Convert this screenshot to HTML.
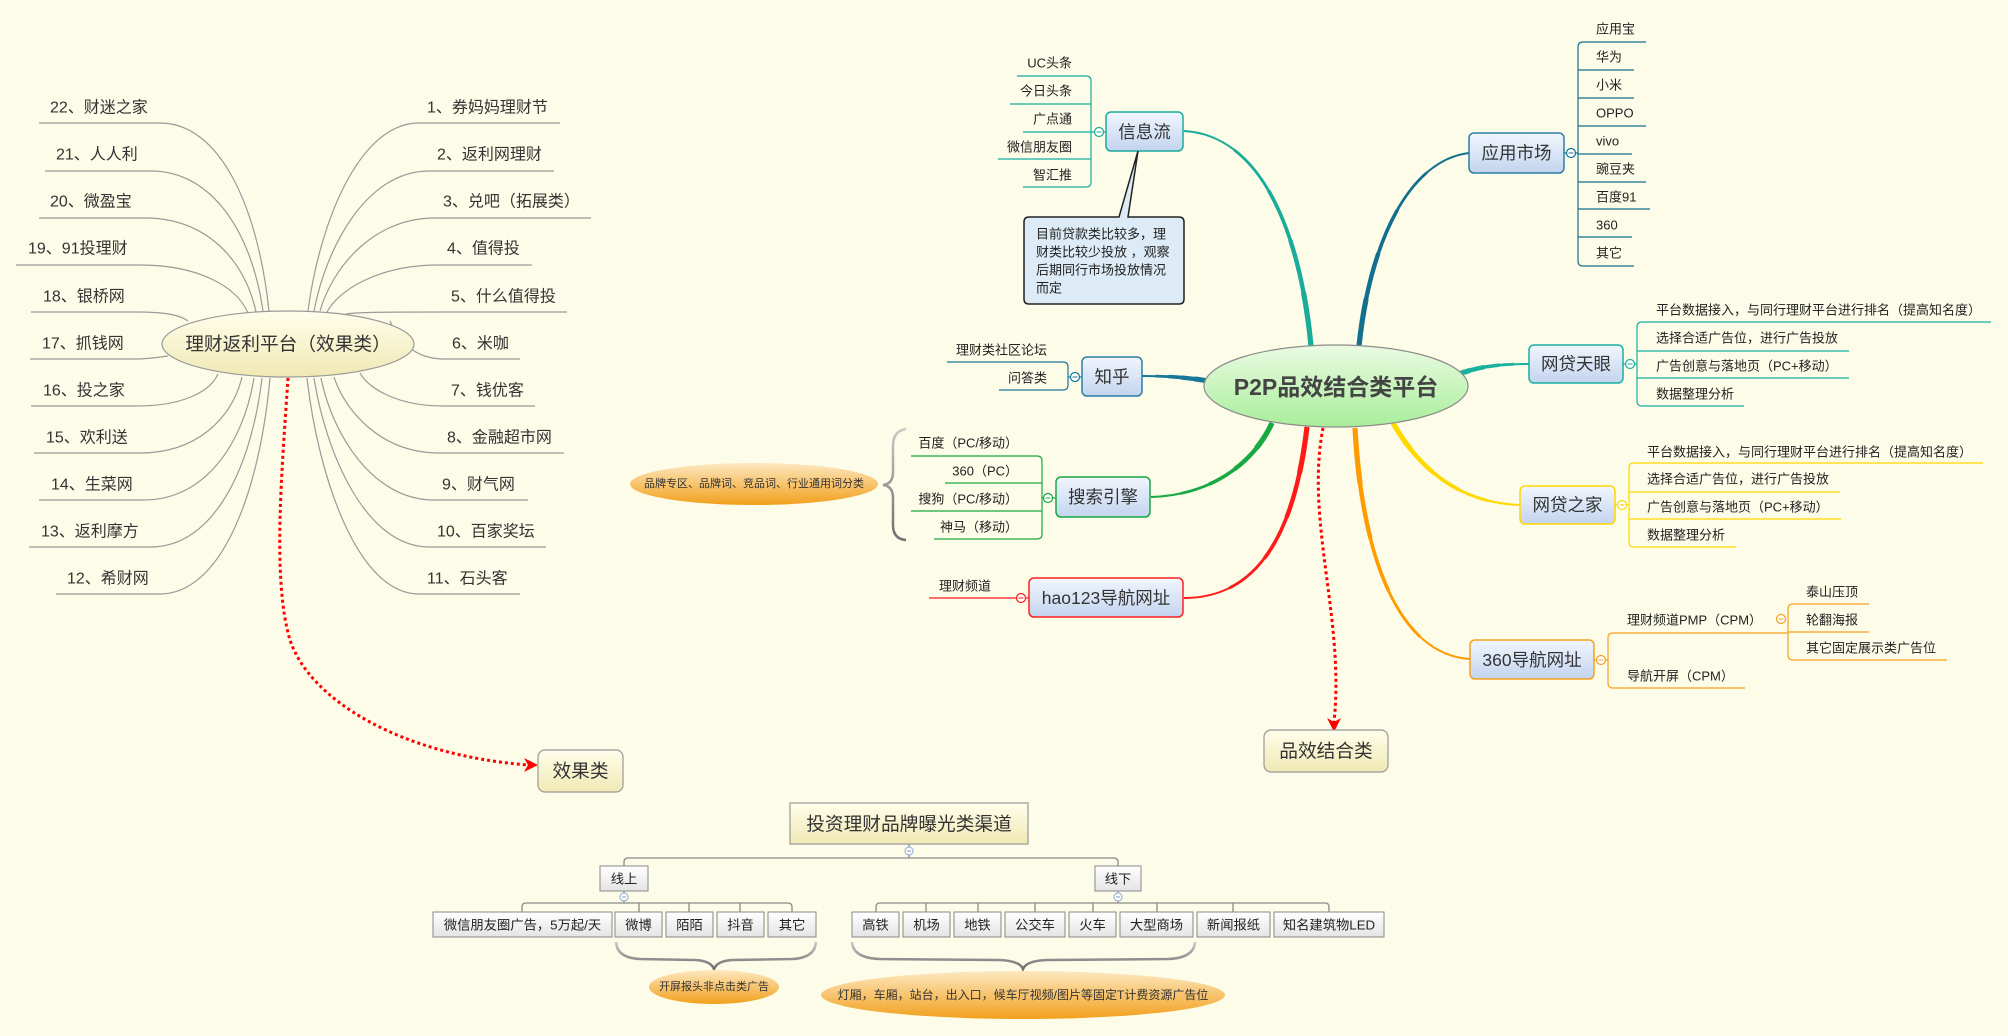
<!DOCTYPE html>
<html><head><meta charset="utf-8"><style>
html,body{margin:0;padding:0;background:#fdfce8;}
svg{display:block;font-family:"Liberation Sans","Noto Sans CJK SC",sans-serif;}
text{fill:#222;dominant-baseline:central;}
.t16{font-size:16px;fill:#333;}
.t13{font-size:13px;}
.tm{font-size:17.5px;fill:#333;text-anchor:middle;}
.tb{font-size:13.3px;text-anchor:middle;}
</style></head><body>
<svg width="2008" height="1036" viewBox="0 0 2008 1036" xmlns="http://www.w3.org/2000/svg" xmlns:xlink="http://www.w3.org/1999/xlink">
<defs>
<linearGradient id="gBlue" x1="0" y1="0" x2="0" y2="1"><stop offset="0" stop-color="#f1f6fd"/><stop offset="1" stop-color="#c3d4ef"/></linearGradient>
<linearGradient id="gYel" x1="0" y1="0" x2="0" y2="1"><stop offset="0" stop-color="#fffeec"/><stop offset="1" stop-color="#f0e9b4"/></linearGradient>
<linearGradient id="gGreen" x1="0" y1="0" x2="0" y2="1"><stop offset="0" stop-color="#ebfbe3"/><stop offset="1" stop-color="#a8ee9a"/></linearGradient>
<linearGradient id="gOr" x1="0" y1="0" x2="0" y2="1"><stop offset="0" stop-color="#fde8c0"/><stop offset="1" stop-color="#f2a01c"/></linearGradient>
<linearGradient id="gGray" x1="0" y1="0" x2="0" y2="1"><stop offset="0" stop-color="#ffffff"/><stop offset="1" stop-color="#e4e4e4"/></linearGradient>
<linearGradient id="gBrace" x1="0" y1="0" x2="0" y2="1"><stop offset="0" stop-color="#c8c8c8"/><stop offset="1" stop-color="#6e6e6e"/></linearGradient>
<path id="c1" pathLength="100" d="M1311,346 C1300,230 1260,135 1184,131"/>
<path id="c2" pathLength="100" d="M1359,346 C1370,240 1410,160 1469,153"/>
<path id="c3" pathLength="100" d="M1208,381 C1185,377 1165,376 1142,376"/>
<path id="c4" pathLength="100" d="M1456,375 C1480,366 1500,364 1529,364"/>
<path id="c5" pathLength="100" d="M1393,423 C1420,470 1460,503 1520,505"/>
<path id="c6" pathLength="100" d="M1355,428 C1362,560 1400,655 1470,659"/>
<path id="c7" pathLength="100" d="M1272,423 C1255,460 1215,495 1151,497"/>
<path id="c8" pathLength="100" d="M1307,427 C1295,530 1260,598 1184,598"/>
</defs>
<rect width="2008" height="1036" fill="#fdfce8"/>

<!-- ===== Left cluster lines ===== -->
<g fill="none" stroke="#9a9a9a" stroke-width="1.2">
<path d="M39,123 H160 C220,123 258,207 269,311"/>
<path d="M45,171 H151 C213,171 252,234 263,311"/>
<path d="M39,218 H145 C206,218 245,260 256,312"/>
<path d="M16,265 H140 C199,265 237,287 248,313"/>
<path d="M31,312 H137 C165,312 180,315 188,321"/>
<path d="M30,359 H136 C150,359 160,357 168,356"/>
<path d="M31,406 H137 C182,406 210,392 218,374"/>
<path d="M34,453 H140 C196,453 232,419 242,377"/>
<path d="M39,500 H144 C204,500 243,445 254,378"/>
<path d="M29,547 H151 C212,547 251,471 262,378"/>
<path d="M56,594 H160 C220,594 259,497 270,378"/>
<path d="M308,311 C319,226 358,123 419,123 H560"/>
<path d="M314,311 C326,248 366,171 429,171 H554"/>
<path d="M320,311 C332,269 372,218 435,218 H591"/>
<path d="M327,312 C338,291 377,265 439,265 H532"/>
<path d="M346,314 C360,312 390,312 443,312 H567"/>
<path d="M390,321 C398,340 414,359 444,359 H520"/>
<path d="M360,373 C368,388 397,406 443,406 H535"/>
<path d="M334,377 C345,411 381,453 439,453 H564"/>
<path d="M321,378 C332,433 372,500 434,500 H528"/>
<path d="M314,378 C326,454 366,547 429,547 H546"/>
<path d="M307,378 C318,475 357,594 419,594 H520"/>
</g>

<!-- red dotted to 效果类 -->
<path d="M288,378 C282,470 272,580 290,640 C310,700 400,755 528,765" fill="none" stroke="#ff0000" stroke-width="3" stroke-dasharray="3,3"/>
<polygon points="538,765 524,758 528,765 524,772" fill="#ff0000"/>

<ellipse cx="288" cy="344" rx="126" ry="33" fill="url(#gYel)" stroke="#9a9a9a" stroke-width="1.2"/>
<text x="288" y="344" style="font-size:18.7px;fill:#333;text-anchor:middle">理财返利平台（效果类）</text>

<g>
<text x="50" y="108" class="t16">22、财迷之家</text>
<text x="56" y="155" class="t16">21、人人利</text>
<text x="50" y="202" class="t16">20、微盈宝</text>
<text x="28" y="249" class="t16">19、91投理财</text>
<text x="43" y="297" class="t16">18、银桥网</text>
<text x="42" y="344" class="t16">17、抓钱网</text>
<text x="43" y="391" class="t16">16、投之家</text>
<text x="46" y="438" class="t16">15、欢利送</text>
<text x="51" y="485" class="t16">14、生菜网</text>
<text x="41" y="532" class="t16">13、返利摩方</text>
<text x="67" y="579" class="t16">12、希财网</text>
<text x="427" y="108" class="t16">1、券妈妈理财节</text>
<text x="437" y="155" class="t16">2、返利网理财</text>
<text x="443" y="202" class="t16">3、兑吧（拓展类）</text>
<text x="447" y="249" class="t16">4、值得投</text>
<text x="451" y="297" class="t16">5、什么值得投</text>
<text x="452" y="344" class="t16">6、米咖</text>
<text x="451" y="391" class="t16">7、钱优客</text>
<text x="447" y="438" class="t16">8、金融超市网</text>
<text x="442" y="485" class="t16">9、财气网</text>
<text x="437" y="532" class="t16">10、百家奖坛</text>
<text x="427" y="579" class="t16">11、石头客</text>
</g>

<!-- 效果类 box -->
<rect x="538" y="750" width="85" height="42" rx="7" fill="url(#gYel)" stroke="#999" stroke-width="1.2"/>
<text x="580.5" y="771" style="font-size:18.7px;fill:#333;text-anchor:middle">效果类</text>

<!-- ===== Main connectors (tapered) ===== -->
<g fill="none" stroke-linecap="butt">
<g stroke="#1aab9b"><use xlink:href="#c1" href="#c1" stroke-width="2"/><use xlink:href="#c1" href="#c1" stroke-width="2.8" stroke-dasharray="80 200"/><use xlink:href="#c1" href="#c1" stroke-width="3.6" stroke-dasharray="60 200"/><use xlink:href="#c1" href="#c1" stroke-width="4.4" stroke-dasharray="40 200"/><use xlink:href="#c1" href="#c1" stroke-width="5.2" stroke-dasharray="20 200"/></g>
<g stroke="#12708e"><use xlink:href="#c2" href="#c2" stroke-width="2"/><use xlink:href="#c2" href="#c2" stroke-width="2.8" stroke-dasharray="80 200"/><use xlink:href="#c2" href="#c2" stroke-width="3.6" stroke-dasharray="60 200"/><use xlink:href="#c2" href="#c2" stroke-width="4.4" stroke-dasharray="40 200"/><use xlink:href="#c2" href="#c2" stroke-width="5.2" stroke-dasharray="20 200"/></g>
<g stroke="#17789a"><use xlink:href="#c3" href="#c3" stroke-width="2"/><use xlink:href="#c3" href="#c3" stroke-width="2.8" stroke-dasharray="80 200"/><use xlink:href="#c3" href="#c3" stroke-width="3.6" stroke-dasharray="60 200"/><use xlink:href="#c3" href="#c3" stroke-width="4.4" stroke-dasharray="40 200"/><use xlink:href="#c3" href="#c3" stroke-width="5.2" stroke-dasharray="20 200"/></g>
<g stroke="#19b0a0"><use xlink:href="#c4" href="#c4" stroke-width="2"/><use xlink:href="#c4" href="#c4" stroke-width="2.8" stroke-dasharray="80 200"/><use xlink:href="#c4" href="#c4" stroke-width="3.6" stroke-dasharray="60 200"/><use xlink:href="#c4" href="#c4" stroke-width="4.4" stroke-dasharray="40 200"/><use xlink:href="#c4" href="#c4" stroke-width="5.2" stroke-dasharray="20 200"/></g>
<g stroke="#ffd800"><use xlink:href="#c5" href="#c5" stroke-width="2"/><use xlink:href="#c5" href="#c5" stroke-width="2.8" stroke-dasharray="80 200"/><use xlink:href="#c5" href="#c5" stroke-width="3.6" stroke-dasharray="60 200"/><use xlink:href="#c5" href="#c5" stroke-width="4.4" stroke-dasharray="40 200"/><use xlink:href="#c5" href="#c5" stroke-width="5.2" stroke-dasharray="20 200"/></g>
<g stroke="#ff9a00"><use xlink:href="#c6" href="#c6" stroke-width="2"/><use xlink:href="#c6" href="#c6" stroke-width="2.8" stroke-dasharray="80 200"/><use xlink:href="#c6" href="#c6" stroke-width="3.6" stroke-dasharray="60 200"/><use xlink:href="#c6" href="#c6" stroke-width="4.4" stroke-dasharray="40 200"/><use xlink:href="#c6" href="#c6" stroke-width="5.2" stroke-dasharray="20 200"/></g>
<g stroke="#18a844"><use xlink:href="#c7" href="#c7" stroke-width="2"/><use xlink:href="#c7" href="#c7" stroke-width="2.8" stroke-dasharray="80 200"/><use xlink:href="#c7" href="#c7" stroke-width="3.6" stroke-dasharray="60 200"/><use xlink:href="#c7" href="#c7" stroke-width="4.4" stroke-dasharray="40 200"/><use xlink:href="#c7" href="#c7" stroke-width="5.2" stroke-dasharray="20 200"/></g>
<g stroke="#ff1a1a"><use xlink:href="#c8" href="#c8" stroke-width="2"/><use xlink:href="#c8" href="#c8" stroke-width="2.8" stroke-dasharray="80 200"/><use xlink:href="#c8" href="#c8" stroke-width="3.6" stroke-dasharray="60 200"/><use xlink:href="#c8" href="#c8" stroke-width="4.4" stroke-dasharray="40 200"/><use xlink:href="#c8" href="#c8" stroke-width="5.2" stroke-dasharray="20 200"/></g>
</g>

<!-- red dotted to 品效结合类 -->
<path d="M1323,428 C1305,520 1345,620 1334,722" fill="none" stroke="#ff0000" stroke-width="3" stroke-dasharray="3,3"/>
<polygon points="1334,732 1327,718 1334,722 1341,718" fill="#ff0000"/>

<!-- center ellipse -->
<ellipse cx="1336" cy="386" rx="132" ry="41" fill="url(#gGreen)" stroke="#8c8c8c" stroke-width="1.2"/>
<text x="1336" y="387" style="font-size:23px;font-weight:bold;fill:#444;text-anchor:middle">P2P品效结合类平台</text>

<!-- 品效结合类 box -->
<rect x="1264" y="730" width="124" height="42" rx="7" fill="url(#gYel)" stroke="#999" stroke-width="1.2"/>
<text x="1326" y="751" style="font-size:18.7px;fill:#333;text-anchor:middle">品效结合类</text>

<!-- ===== 信息流 ===== -->
<g fill="none" stroke="#1aab9b" stroke-width="1.2">
<path d="M1017,76 H1086 Q1091,76 1091,81 V182 Q1091,187 1086,187 H1023"/>
<path d="M1010,104 H1091 M1023,132 H1106 M998,159 H1091"/>
</g>
<circle cx="1099" cy="132" r="4.5" fill="#fff" stroke="#1aab9b" stroke-width="1.2"/><path d="M1096.5,132 H1101.5" stroke="#1aab9b" stroke-width="1"/>
<rect x="1106" y="112" width="77" height="39" rx="5" fill="url(#gBlue)" stroke="#1aab9b" stroke-width="1.5"/>
<text x="1144.5" y="132" class="tm">信息流</text>
<g style="text-anchor:end">
<text x="1072" y="63" class="t13">UC头条</text>
<text x="1072" y="91" class="t13">今日头条</text>
<text x="1072" y="119" class="t13">广点通</text>
<text x="1072" y="147" class="t13">微信朋友圈</text>
<text x="1072" y="175" class="t13">智汇推</text>
</g>
<!-- callout -->
<path d="M1029,217 H1119 L1138,151 L1128,217 H1179 Q1184,217 1184,222 V299 Q1184,304 1179,304 H1029 Q1024,304 1024,299 V222 Q1024,217 1029,217 Z" fill="#dcebf5" stroke="#222" stroke-width="1.5"/>
<g>
<text x="1036" y="234" class="t13">目前贷款类比较多，理</text>
<text x="1036" y="252" class="t13">财类比较少投放 ，观察</text>
<text x="1036" y="270" class="t13">后期同行市场投放情况</text>
<text x="1036" y="288" class="t13">而定</text>
</g>

<!-- ===== 应用市场 ===== -->
<g fill="none" stroke="#16708e" stroke-width="1.2">
<path d="M1646,42 H1583 Q1578,42 1578,47 V261 Q1578,266 1583,266 H1634"/>
<path d="M1578,70 H1634 M1578,98 H1634 M1578,126 H1646 M1578,154 H1632 M1578,182 H1646 M1578,209 H1650 M1578,237 H1632 M1564,153 H1578"/>
</g>
<circle cx="1571" cy="153" r="4.5" fill="#fff" stroke="#16708e" stroke-width="1.2"/><path d="M1568.5,153 H1573.5" stroke="#16708e" stroke-width="1"/>
<rect x="1469" y="133" width="95" height="40" rx="5" fill="url(#gBlue)" stroke="#2b7fa5" stroke-width="1.5"/>
<text x="1516.5" y="153" class="tm">应用市场</text>
<g>
<text x="1596" y="29" class="t13">应用宝</text>
<text x="1596" y="57" class="t13">华为</text>
<text x="1596" y="85" class="t13">小米</text>
<text x="1596" y="113" class="t13">OPPO</text>
<text x="1596" y="141" class="t13">vivo</text>
<text x="1596" y="169" class="t13">豌豆夹</text>
<text x="1596" y="197" class="t13">百度91</text>
<text x="1596" y="225" class="t13">360</text>
<text x="1596" y="253" class="t13">其它</text>
</g>

<!-- ===== 知乎 ===== -->
<g fill="none" stroke="#17789a" stroke-width="1.2">
<path d="M947,362 H1063 Q1068,362 1068,367 V385 Q1068,390 1063,390 H999"/>
<path d="M1068,377 H1082"/>
</g>
<circle cx="1075" cy="377" r="4.5" fill="#fff" stroke="#17789a" stroke-width="1.2"/><path d="M1072.5,377 H1077.5" stroke="#17789a" stroke-width="1"/>
<rect x="1082" y="357" width="60" height="39" rx="5" fill="url(#gBlue)" stroke="#2b7fa5" stroke-width="1.5"/>
<text x="1112" y="377" class="tm">知乎</text>
<text x="1047" y="350" class="t13" style="text-anchor:end">理财类社区论坛</text>
<text x="1047" y="378" class="t13" style="text-anchor:end">问答类</text>

<!-- ===== 网贷天眼 ===== -->
<g fill="none" stroke="#19b0a0" stroke-width="1.2">
<path d="M1991,322 H1642 Q1637,322 1637,327 V401 Q1637,406 1642,406 H1744"/>
<path d="M1637,351 H1849 M1637,378 H1849 M1623,364 H1637"/>
</g>
<circle cx="1630" cy="364" r="4.5" fill="#fff" stroke="#19b0a0" stroke-width="1.2"/><path d="M1627.5,364 H1632.5" stroke="#19b0a0" stroke-width="1"/>
<rect x="1529" y="345" width="94" height="38" rx="5" fill="url(#gBlue)" stroke="#19b0a0" stroke-width="1.5"/>
<text x="1576" y="364" class="tm">网贷天眼</text>
<text x="1656" y="310" class="t13">平台数据接入，与同行理财平台进行排名（提高知名度）</text>
<text x="1656" y="338" class="t13">选择合适广告位，进行广告投放</text>
<text x="1656" y="366" class="t13">广告创意与落地页（PC+移动）</text>
<text x="1656" y="394" class="t13">数据整理分析</text>

<!-- ===== 网贷之家 ===== -->
<g fill="none" stroke="#ffd800" stroke-width="1.2">
<path d="M1983,463 H1634 Q1629,463 1629,468 V542 Q1629,547 1634,547 H1736"/>
<path d="M1629,492 H1840 M1629,519 H1841 M1615,505 H1629"/>
</g>
<circle cx="1622" cy="505" r="4.5" fill="#fff" stroke="#ffd800" stroke-width="1.2"/><path d="M1619.5,505 H1624.5" stroke="#e8c000" stroke-width="1"/>
<rect x="1520" y="486" width="95" height="38" rx="5" fill="url(#gBlue)" stroke="#ffd800" stroke-width="1.5"/>
<text x="1567.5" y="505" class="tm">网贷之家</text>
<text x="1647" y="452" class="t13">平台数据接入，与同行理财平台进行排名（提高知名度）</text>
<text x="1647" y="479" class="t13">选择合适广告位，进行广告投放</text>
<text x="1647" y="507" class="t13">广告创意与落地页（PC+移动）</text>
<text x="1647" y="535" class="t13">数据整理分析</text>

<!-- ===== 360导航网址 ===== -->
<g fill="none" stroke="#f5a020" stroke-width="1.2">
<path d="M1788,633 H1613 Q1608,633 1608,638 V683 Q1608,688 1613,688 H1745"/>
<path d="M1869,604 H1793 Q1788,604 1788,609 V655 Q1788,660 1793,660 H1947"/>
<path d="M1788,632 H1869 M1594,660 H1608"/>
</g>
<circle cx="1601" cy="660" r="4.5" fill="#fff" stroke="#f5a020" stroke-width="1.2"/><path d="M1598.5,660 H1603.5" stroke="#f5a020" stroke-width="1"/>
<circle cx="1781" cy="619" r="4.5" fill="#fff" stroke="#f5a020" stroke-width="1.2"/><path d="M1778.5,619 H1783.5" stroke="#f5a020" stroke-width="1"/>
<rect x="1470" y="640" width="124" height="39" rx="5" fill="url(#gBlue)" stroke="#f5a020" stroke-width="1.5"/>
<text x="1532" y="660" class="tm">360导航网址</text>
<text x="1627" y="620" class="t13">理财频道PMP（CPM）</text>
<text x="1627" y="676" class="t13">导航开屏（CPM）</text>
<text x="1806" y="592" class="t13">泰山压顶</text>
<text x="1806" y="620" class="t13">轮翻海报</text>
<text x="1806" y="648" class="t13">其它固定展示类广告位</text>

<!-- ===== 搜索引擎 ===== -->
<g fill="none" stroke="#18a844" stroke-width="1.2">
<path d="M911,456 H1037 Q1042,456 1042,461 V534 Q1042,539 1037,539 H934"/>
<path d="M945,483 H1042 M911,511 H1042 M1042,498 H1056"/>
</g>
<circle cx="1048" cy="498" r="4.5" fill="#fff" stroke="#18a844" stroke-width="1.2"/><path d="M1045.5,498 H1050.5" stroke="#18a844" stroke-width="1"/>
<rect x="1056" y="477" width="94" height="40" rx="5" fill="url(#gBlue)" stroke="#18a844" stroke-width="1.5"/>
<text x="1103" y="497" class="tm">搜索引擎</text>
<g style="text-anchor:end">
<text x="1018" y="443" class="t13">百度（PC/移动）</text>
<text x="1018" y="471" class="t13">360（PC）</text>
<text x="1018" y="499" class="t13">搜狗（PC/移动）</text>
<text x="1018" y="527" class="t13">神马（移动）</text>
</g>
<path d="M906,429 Q893,431 893,446 L893,472 Q893,484 883,485 Q893,486 893,498 L893,525 Q893,539 906,540" fill="none" stroke="url(#gBrace)" stroke-width="2.5"/>
<ellipse cx="754" cy="484" rx="124" ry="21" fill="url(#gOr)"/>
<text x="754" y="484" style="font-size:11px;fill:#333;text-anchor:middle">品牌专区、品牌词、竞品词、行业通用词分类</text>

<!-- ===== hao123 ===== -->
<path d="M929,598 H1029" fill="none" stroke="#ff1a1a" stroke-width="1.2"/>
<circle cx="1021" cy="598" r="4.5" fill="#fff" stroke="#ff1a1a" stroke-width="1.2"/><path d="M1018.5,598 H1023.5" stroke="#ff1a1a" stroke-width="1"/>
<rect x="1029" y="578" width="154" height="39" rx="5" fill="url(#gBlue)" stroke="#ff2020" stroke-width="1.5"/>
<text x="1106" y="598" class="tm">hao123导航网址</text>
<text x="939" y="586" class="t13">理财频道</text>

<!-- ===== Bottom: 投资理财品牌曝光类渠道 ===== -->
<g fill="none" stroke="#8a8a8a" stroke-width="1.3">
<path d="M909,844 V858 M624,867 V862 Q624,858 628,858 H1114 Q1118,858 1118,862 V867"/>
<path d="M624,891 V903 M522,912 V907 Q522,903 526,903 H788 Q792,903 792,907 V912 M639,903 V912 M689,903 V912 M740,903 V912"/>
<path d="M1118,891 V903 M876,912 V907 Q876,903 880,903 H1325 Q1329,903 1329,907 V912 M926,903 V912 M978,903 V912 M1035,903 V912 M1093,903 V912 M1157,903 V912 M1233,903 V912"/>
</g>
<rect x="790" y="803" width="238" height="41" fill="url(#gYel)" stroke="#999" stroke-width="1.2"/>
<text x="909" y="824" style="font-size:18.7px;fill:#333;text-anchor:middle">投资理财品牌曝光类渠道</text>
<circle cx="909" cy="851" r="4" fill="#fff" stroke="#9fb6d8" stroke-width="1.2"/><path d="M907,851 H911" stroke="#7f9cc8" stroke-width="1"/>

<rect x="600" y="866" width="48" height="25" fill="url(#gGray)" stroke="#888" stroke-width="1"/>
<text x="624" y="879" class="tb">线上</text>
<rect x="1095" y="866" width="46" height="25" fill="url(#gGray)" stroke="#888" stroke-width="1"/>
<text x="1118" y="879" class="tb">线下</text>
<circle cx="624" cy="897" r="4" fill="#fff" stroke="#9fb6d8" stroke-width="1.2"/><path d="M622,897 H626" stroke="#7f9cc8" stroke-width="1"/>
<circle cx="1118" cy="897" r="4" fill="#fff" stroke="#9fb6d8" stroke-width="1.2"/><path d="M1116,897 H1120" stroke="#7f9cc8" stroke-width="1"/>

<g fill="url(#gGray)" stroke="#888" stroke-width="1">
<rect x="433" y="912" width="179" height="25"/>
<rect x="615" y="912" width="47" height="25"/>
<rect x="666" y="912" width="47" height="25"/>
<rect x="717" y="912" width="47" height="25"/>
<rect x="768" y="912" width="48" height="25"/>
<rect x="852" y="912" width="47" height="25"/>
<rect x="903" y="912" width="47" height="25"/>
<rect x="954" y="912" width="47" height="25"/>
<rect x="1005" y="912" width="60" height="25"/>
<rect x="1069" y="912" width="47" height="25"/>
<rect x="1120" y="912" width="73" height="25"/>
<rect x="1197" y="912" width="73" height="25"/>
<rect x="1274" y="912" width="110" height="25"/>
</g>
<g>
<text x="522.5" y="925" class="tb">微信朋友圈广告，5万起/天</text>
<text x="638.5" y="925" class="tb">微博</text>
<text x="689.5" y="925" class="tb">陌陌</text>
<text x="740.5" y="925" class="tb">抖音</text>
<text x="792" y="925" class="tb">其它</text>
<text x="875.5" y="925" class="tb">高铁</text>
<text x="926.5" y="925" class="tb">机场</text>
<text x="977.5" y="925" class="tb">地铁</text>
<text x="1035" y="925" class="tb">公交车</text>
<text x="1092.5" y="925" class="tb">火车</text>
<text x="1156.5" y="925" class="tb">大型商场</text>
<text x="1233.5" y="925" class="tb">新闻报纸</text>
<text x="1329" y="925" class="tb">知名建筑物LED</text>
</g>

<!-- bottom braces -->
<path d="M616,942 Q617,958 640,959 L696,960 Q711,961 714,969 Q717,961 732,960 L792,959 Q815,958 816,942" fill="none" stroke="url(#gBrace)" stroke-width="2.5"/>
<path d="M852,942 Q853,958 880,959 L1000,960 Q1020,961 1023,969 Q1026,961 1046,960 L1168,959 Q1194,958 1195,942" fill="none" stroke="url(#gBrace)" stroke-width="2.5"/>
<ellipse cx="714" cy="987" rx="65" ry="17" fill="url(#gOr)"/>
<text x="714" y="987" style="font-size:11px;fill:#333;text-anchor:middle">开屏报头非点击类广告</text>
<ellipse cx="1023" cy="995" rx="202" ry="24" fill="url(#gOr)"/>
<text x="1023" y="995" style="font-size:12px;fill:#333;text-anchor:middle">灯厢，车厢，站台，出入口，候车厅视频/图片等固定T计费资源广告位</text>
</svg>
</body></html>
